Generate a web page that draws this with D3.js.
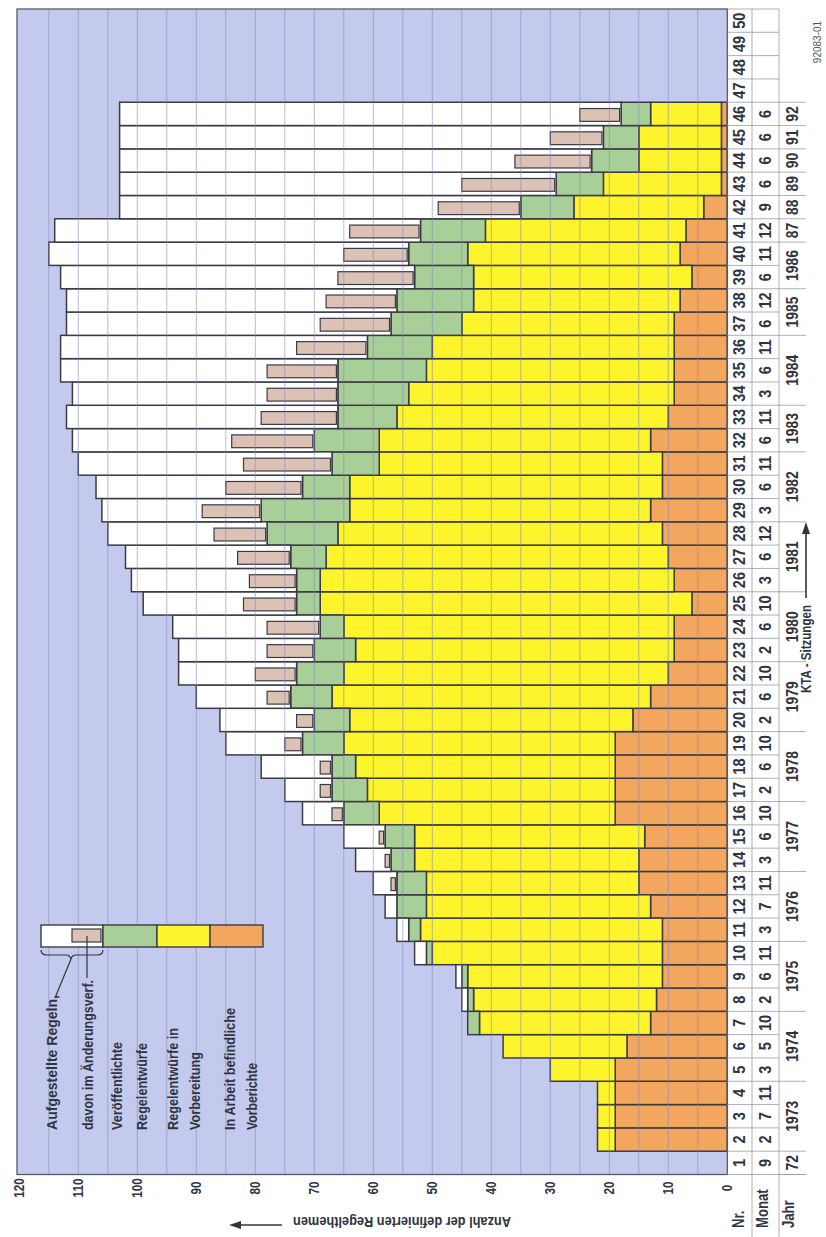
<!DOCTYPE html>
<html><head><meta charset="utf-8">
<script src="https://cdn.jsdelivr.net/npm/d3@7"></script>
<style>
body{margin:0;background:#fff;}
svg text{font-family:"Liberation Sans",Arial,sans-serif;font-weight:bold;fill:#30343f;}
</style></head><body><svg id="c" width="826" height="1237"></svg>
<script>
// ---- data (KTA-Sitzungen Nr. 1..50) ----
const sessions = d3.range(1, 51);
const months = ["9","2","7","11","3","5","10","2","6","11","3","7","11","3","6","10","2","6","10","2","6","10","2","6","10","3","6","12","3","6","11","6","11","3","6","11","6","12","6","11","12","9","6","6","6","6","","","",""];
const yearLabels = ["72","1973","1974","1975","1976","1977","1978","1979","1980","1981","1982","1983","1984","1985","1986","87","88","89","90","91","92"];
const yearFirst  = [1,2,5,8,11,14,17,20,23,26,29,32,34,37,39,41,42,43,44,45,46];
const yearLast   = [1,4,7,10,13,16,19,22,25,28,31,33,36,38,40,41,42,43,44,45,46];
// In Arbeit befindliche Vorberichte
const vorberichte = [0,19,19,19,19,17,13,12,11,11,11,13,15,15,14,19,19,19,19,16,13,10,9,9,6,9,10,11,13,11,11,13,10,9,9,9,9,8,6,8,7,4,1,1,1,1];
// Regelentwürfe in Vorbereitung
const inVorbereitung = [0,3,3,3,11,21,29,31,33,39,41,38,36,38,39,40,42,44,46,48,54,55,54,56,63,60,58,55,51,53,48,46,46,45,42,41,36,35,37,36,34,22,20,14,14,12];
// Veröffentlichte Regelentwürfe
const veroeffentlicht = [0,0,0,0,0,0,2,1,1,1,2,5,5,4,5,6,6,4,7,6,7,8,7,4,4,4,6,12,15,8,8,11,10,12,15,11,12,13,10,10,11,9,8,8,6,5];
// Aufgestellte Regeln
const aufgestellt = [0,0,0,0,0,0,0,1,1,2,2,2,4,6,7,7,8,12,13,16,16,20,23,25,26,28,28,27,27,35,43,41,46,45,47,52,55,56,60,61,62,68,74,80,82,85];
// davon im Änderungsverfahren
const aenderung = [0,0,0,0,0,0,0,0,0,0,0,0,1,1,1,2,2,2,3,3,4,7,8,9,9,8,9,9,10,13,15,14,13,12,12,12,12,12,13,11,12,14,16,13,9,7];
const valueTicks = d3.range(0, 121, 10);

// ---- scales ----
const svg = d3.select("#c");
const x = d3.scaleLinear().domain([0, 120]).range([727.3, 19.3]);
const y = d3.scaleBand().domain(sessions).range([1174.5, 9]).paddingInner(0);
const bh = y.bandwidth();
const plotL = 17, plotR = x(0), plotT = 9, plotB = 1174.5;

const C = {bg:"#c4caee", grid:"#7f83bd", orange:"#f3a65d", yellow:"#fdf42c", green:"#a9cf98", white:"#ffffff", pink:"#dcc1b5", stroke:"#3b3b46"};

svg.append("rect").attr("width",826).attr("height",1237).attr("fill","#fff");
svg.append("rect").attr("x",plotL).attr("y",plotT).attr("width",plotR-plotL).attr("height",plotB-plotT)
  .attr("fill",C.bg);

// ---- bars ----
const rows = vorberichte.map((o,i)=>({s:i+1,o:o,y:inVorbereitung[i],g:veroeffentlicht[i],w:aufgestellt[i],p:aenderung[i]}));
const stack = d3.stack().keys(["o","y","g","w"])(rows);
const colors = {o:C.orange,y:C.yellow,g:C.green,w:C.white};
const gb = svg.append("g");
stack.forEach(layer=>{
  gb.selectAll(null).data(layer.filter(d=>d[1]>d[0])).enter().append("rect")
    .attr("x",d=>x(d[1])).attr("width",d=>x(d[0])-x(d[1]))
    .attr("y",d=>y(d.data.s)).attr("height",bh)
    .attr("fill",colors[layer.key]).attr("stroke",C.stroke).attr("stroke-width",1.5);
});
// pink inset (davon im Änderungsverfahren)
gb.selectAll(null).data(rows.filter(d=>d.p>0)).enter().append("rect")
  .attr("x",d=>x(d.o+d.y+d.g+d.p)).attr("width",d=>x(d.o+d.y+d.g)-x(d.o+d.y+d.g+d.p)-1.5)
  .attr("y",d=>y(d.s)+bh*0.27).attr("height",bh*0.55)
  .attr("fill",C.pink).attr("stroke",C.stroke).attr("stroke-width",1.2);

// ---- grid lines ----
svg.append("g").selectAll("line").data(d3.range(5,120,5)).enter().append("line")
  .attr("x1",d=>x(d)).attr("x2",d=>x(d)).attr("y1",plotT).attr("y2",plotB)
  .attr("stroke",C.grid).attr("stroke-width",0.9).attr("opacity",0.6);
svg.append("rect").attr("x",plotL).attr("y",plotT).attr("width",plotR-plotL).attr("height",plotB-plotT)
  .attr("fill","none").attr("stroke","#555a6a").attr("stroke-width",1.3);

// helper for text rotated -90 (reading upwards), condensed by sx
function rtext(px, py, str, size, anchor, sx, extra){
  const t = svg.append("text").attr("transform",`translate(${px},${py}) rotate(-90) scale(${sx||0.85},1)`)
    .attr("text-anchor",anchor||"middle").attr("dominant-baseline","central")
    .style("font-size",size+"px").text(str);
  if(extra) extra(t);
  return t;
}

// ---- value tick labels ----
valueTicks.forEach(v=>rtext(x(v), 1188, String(v), 15, "middle", 0.78));

// ---- session table ----
const tb = svg.append("g").attr("stroke","#9a9aa6").attr("stroke-width",0.8);
const colNrL = plotR, colNrR = 752, colMoR = 779, colJR = 806;
sessions.forEach(s=>{
  tb.append("line").attr("x1",colNrL).attr("x2",colMoR).attr("y1",y(s)).attr("y2",y(s));
});
tb.append("line").attr("x1",colNrL).attr("x2",colJR).attr("y1",plotB).attr("y2",plotB);
yearFirst.forEach((f,i)=>{
  tb.append("line").attr("x1",colMoR).attr("x2",colJR).attr("y1",y(f)+bh).attr("y2",y(f)+bh);
});
tb.append("line").attr("x1",colMoR).attr("x2",colJR).attr("y1",y(46)).attr("y2",y(46));
[colNrR,colMoR].forEach(cx=>tb.append("line").attr("x1",cx).attr("x2",cx).attr("y1",plotT).attr("y2",1237));

sessions.forEach((s,i)=>{
  rtext(739.5, y(s)+bh/2, String(s), 17, "middle", 0.86);
  if(months[i]) rtext(765.5, y(s)+bh/2, months[i], 17, "middle", 0.86);
});
yearLabels.forEach((lab,i)=>{
  const yc = (y(yearFirst[i])+bh + y(yearLast[i]))/2;
  rtext(792, yc, lab, 17, "middle", 0.82);
});
rtext(739, 1228, "Nr.", 16, "start", 0.82);
rtext(763, 1228, "Monat", 16, "start", 0.82);
rtext(789, 1228, "Jahr", 16, "start", 0.82);

// ---- axis titles ----
rtext(806, 693, "KTA - Sitzungen", 14, "start", 1, t=>t.attr("textLength",88).attr("lengthAdjust","spacingAndGlyphs"));
svg.append("line").attr("x1",806).attr("x2",806).attr("y1",598).attr("y2",530).attr("stroke","#30343f").attr("stroke-width",1.6);
svg.append("path").attr("d","M806,522 L802,534 L810,534 Z").attr("fill","#30343f");

svg.append("text").attr("transform","translate(402,1222) rotate(180)")
  .attr("text-anchor","middle").attr("dominant-baseline","central").style("font-size","14px")
  .attr("textLength",218).attr("lengthAdjust","spacingAndGlyphs")
  .text("Anzahl der definierten Regelthemen");
svg.append("line").attr("x1",238).attr("x2",282).attr("y1",1225).attr("y2",1225).attr("stroke","#30343f").attr("stroke-width",1.6);
svg.append("path").attr("d","M229,1225 L241,1221 L241,1229 Z").attr("fill","#30343f");

rtext(817, 42, "92083-01", 10, "middle", 1, t=>t.style("font-weight","normal").style("fill","#555"));

// ---- legend ----
const lg = svg.append("g");
const legTop = 925, legH = 22;
const legBoxes = [[41,103,C.white],[103,157,C.green],[157,210,C.yellow],[210,263,C.orange]];
legBoxes.forEach(b=>lg.append("rect").attr("x",b[0]).attr("y",legTop).attr("width",b[1]-b[0]).attr("height",legH)
  .attr("fill",b[2]).attr("stroke",C.stroke).attr("stroke-width",1.4));
lg.append("rect").attr("x",72).attr("y",929).attr("width",29).attr("height",13)
  .attr("fill",C.pink).attr("stroke",C.stroke).attr("stroke-width",1.2);
lg.append("path").attr("d","M41,950 Q41,955 47,955 L66,955 Q70,955 71,959 Q72,955 76,955 L97,955 Q103,955 103,950")
  .attr("fill","none").attr("stroke","#30343f").attr("stroke-width",1.2);
lg.append("line").attr("x1",71).attr("y1",959).attr("x2",55).attr("y2",998).attr("stroke","#30343f").attr("stroke-width",1.2);
lg.append("line").attr("x1",87).attr("y1",936).attr("x2",87).attr("y2",978).attr("stroke","#30343f").attr("stroke-width",1.2);
const legTexts = [[51,"Aufgestellte Regeln,",135],[87,"davon im Änderungsverf.",150],[116,"Veröffentlichte",88],[141,"Regelentwürfe",87],
  [172,"Regelentwürfe in",102],[194,"Vorbereitung",78],[229,"In Arbeit befindliche",122],[251,"Vorberichte",67]];
legTexts.forEach(d=>rtext(d[0],1130,d[1],15,"start",1,t=>t.attr("textLength",d[2]).attr("lengthAdjust","spacingAndGlyphs")));
</script></body></html>
